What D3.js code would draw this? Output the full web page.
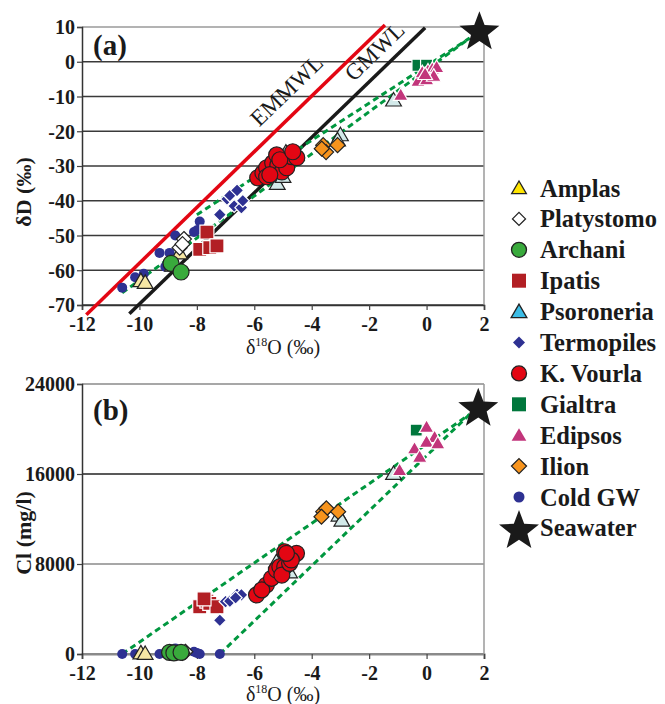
<!DOCTYPE html>
<html>
<head>
<meta charset="utf-8">
<script src="https://cdn.jsdelivr.net/npm/d3@7"></script>
<style>
  body { margin: 0; background: #fff; }
  svg { display: block; font-family: "Liberation Serif", "Times New Roman", serif; }
</style>
</head>
<body>
<script>
// tick values
const xTicks = [-12, -10, -8, -6, -4, -2, 0, 2];
const dDTicks = [10, 0, -10, -20, -30, -40, -50, -60, -70];
const clTicks = [0, 8000, 16000, 24000];

// panel (a): [d18O, dD]   panel (b): [d18O, Cl]
const amplasA = [[-9.95, -63], [-9.8, -63.5], [-8.6, -55], [-8.85, -58.5]];
const amplasB = [[-9.95, 100], [-9.8, 50]];
const platystomoA = [[-8.45, -51], [-8.6, -53.5], [-8.5, -52.5]];
const platystomoB = [[-8.4, 200], [-8.5, 100]];
const archaniA = [[-8.9, -58], [-8.55, -60.5]];
const archaniB = [[-8.95, 150], [-8.8, 100], [-8.55, 150]];
const ipatisA = [[-7.65, -49], [-7.9, -54], [-7.55, -53.5], [-7.3, -53]];
const ipatisB = [[-7.9, 4200], [-7.65, 4700], [-7.55, 4500], [-7.3, 4200], [-7.75, 4900]];
const psoroneriaA = [[-1.15, -11], [-3.0, -21], [-3.1, -22.5], [-5.2, -35], [-4.9, -26], [-5.0, -33]];
const psoroneriaB = [[-1.15, 16050], [-3.05, 12350], [-2.95, 11900], [-5.23, 8200], [-4.77, 7300]];
const termopilesA = [[-7.2, -44], [-6.95, -39.5], [-6.85, -38.5], [-6.6, -37], [-6.7, -41.5], [-6.45, -42], [-6.4, -40]];
const termopilesB = [[-7.2, 3000], [-7.0, 4650], [-6.85, 4700], [-6.6, 5300], [-6.45, 5250], [-6.65, 5000]];
const kvourlaA = [[-5.88, -33.4], [-5.7, -32], [-5.57, -30.5], [-5.36, -29.1], [-5.18, -29.7], [-5.04, -31.7],
  [-4.87, -30.5], [-4.7, -27.3], [-4.52, -27.6], [-5.22, -26.8], [-5.57, -33.1], [-5.11, -28.2], [-4.66, -25.9], [-5.46, -32.5]];
const kvourlaB = [[-5.92, 5250], [-5.58, 6130], [-5.74, 5700], [-5.4, 6730], [-5.23, 7470], [-5.11, 7760], [-4.94, 7760],
  [-5.04, 7020], [-4.77, 8060], [-4.53, 8950], [-4.94, 9090], [-4.71, 8360], [-4.88, 8950]];
const gialtraA = [[-0.3, -1], [0.0, -1]];
const gialtraB = [[-0.36, 19900]];
const edipsosA = [[-0.9, -9.5], [-0.3, -5.5], [0.0, -5.0], [0.05, -2.5], [0.2, -2.0], [0.35, -1.5], [-0.15, -3], [0.25, -4.0], [-0.05, -3.5]];
const edipsosB = [[0.0, 20200], [0.28, 19300], [0.0, 18870], [-0.42, 18280], [-0.24, 17540], [-0.94, 16360], [0.39, 18730]];
const ilionA = [[-3.6, -24], [-3.5, -26], [-3.1, -24], [-3.65, -25]];
const ilionB = [[-3.6, 12650], [-3.49, 12950], [-3.66, 12200], [-3.08, 12650]];
const coldA = [[-10.6, -65], [-10.15, -62], [-9.85, -61], [-9.3, -55], [-8.95, -55], [-8.75, -50], [-9.1, -59],
  [-9.0, -58], [-8.1, -49], [-8.0, -48.5], [-7.9, -46]];
const coldB = [[-10.6, 0], [-10.15, 0], [-9.85, 0], [-9.3, 0], [-9.05, 0], [-8.9, 0], [-8.75, 500],
  [-8.1, 200], [-8.0, 100], [-7.9, 0], [-7.2, 0]];
const seawaterA = [[1.84, 8.5]];
const seawaterB = [[1.8, 21800]];

// reference lines (end points)
const emmwl = [[-11.85, -72.8], [-1.45, 10.6]];
const gmwl = [[-10.35, -72.5], [-0.05, 9.8]];
const mixA = [[[-10.6, -66.5], [1.5, 6.8]], [[-8.0, -44], [1.5, 6.8]]];
const mixB = [[[-10.6, 0], [1.5, 21300]], [[-7.2, 0], [1.5, 21300]]];

const names = ["Amplas", "Platystomo", "Archani", "Ipatis", "Psoroneria", "Termopiles",
  "K. Vourla", "Gialtra", "Edipsos", "Ilion", "Cold GW", "Seawater"];

const styles = {
  "Amplas":     {shape: "tri",  fill: "#f6e7a4", lfill: "#ffe500", stroke: "#222", s: 7.5, ls: 7},
  "Platystomo": {shape: "dia",  fill: "#ffffff", lfill: "#ffffff", stroke: "#222", s: 7.5, ls: 6.5},
  "Archani":    {shape: "circ", fill: "#39aa3c", lfill: "#39aa3c", stroke: "#222", s: 8, ls: 7.5},
  "Ipatis":     {shape: "sq",   fill: "#b21f24", lfill: "#b21f24", stroke: "#fff", s: 7, ls: 7},
  "Psoroneria": {shape: "tri",  fill: "#d3eaea", lfill: "#3cbde6", stroke: "#222", s: 7.5, ls: 7.5},
  "Termopiles": {shape: "dia",  fill: "#2e3192", lfill: "#2e3192", stroke: "#fff", s: 6.5, ls: 6},
  "K. Vourla":  {shape: "circ", fill: "#e30613", lfill: "#e30613", stroke: "#222", s: 8, ls: 7.5},
  "Gialtra":    {shape: "sq",   fill: "#00773c", lfill: "#00773c", stroke: "#fff", s: 6, ls: 7},
  "Edipsos":    {shape: "tri",  fill: "#c2357b", lfill: "#c2357b", stroke: "#fff", s: 7, ls: 7},
  "Ilion":      {shape: "dia",  fill: "#f7941d", lfill: "#f7941d", stroke: "#222", s: 7.5, ls: 7.5},
  "Cold GW":    {shape: "circ", fill: "#2e3192", lfill: "#2e3192", stroke: "none", s: 5, ls: 5.5},
  "Seawater":   {shape: "star", fill: "#1a1a1a", lfill: "#1a1a1a", stroke: "none", s: 21, ls: 21}
};

const dataA = {"Amplas": amplasA, "Platystomo": platystomoA, "Archani": archaniA, "Ipatis": ipatisA,
  "Psoroneria": psoroneriaA, "Termopiles": termopilesA, "K. Vourla": kvourlaA, "Gialtra": gialtraA,
  "Edipsos": edipsosA, "Ilion": ilionA, "Cold GW": coldA, "Seawater": seawaterA};
const dataB = {"Amplas": amplasB, "Platystomo": platystomoB, "Archani": archaniB, "Ipatis": ipatisB,
  "Psoroneria": psoroneriaB, "Termopiles": termopilesB, "K. Vourla": kvourlaB, "Gialtra": gialtraB,
  "Edipsos": edipsosB, "Ilion": ilionB, "Cold GW": coldB, "Seawater": seawaterB};
// drawing order in the plot
const drawOrder = ["Cold GW", "Amplas", "Platystomo", "Archani", "Ipatis", "Termopiles",
  "Psoroneria", "K. Vourla", "Gialtra", "Edipsos", "Ilion", "Seawater"];

function shapePath(type, s) {
  if (type === "circ") return `M${s},0A${s},${s} 0 1,1 ${-s},0A${s},${s} 0 1,1 ${s},0Z`;
  if (type === "sq") return `M${-s},${-s}H${s}V${s}H${-s}Z`;
  if (type === "dia") return `M0,${-s}L${s},0L0,${s}L${-s},0Z`;
  if (type === "tri") return `M0,${-s}L${s * 1.05},${s * 0.8}L${-s * 1.05},${s * 0.8}Z`;
  // star
  const pts = [];
  for (let i = 0; i < 10; i++) {
    const r = i % 2 ? s * 0.42 : s;
    const a = -Math.PI / 2 + i * Math.PI / 5;
    pts.push([r * Math.cos(a), r * Math.sin(a)]);
  }
  return "M" + pts.map(p => p.join(",")).join("L") + "Z";
}

const W = 665, H = 704;
const svg = d3.select("body").append("svg").attr("width", W).attr("height", H);

const x = d3.scaleLinear().domain([-12, 2]).range([82, 484]);
const ya = d3.scaleLinear().domain([-70, 10]).range([305, 27]);
const yb = d3.scaleLinear().domain([0, 24000]).range([654, 384]);

function panel(y, yTicks, data, mix, opts) {
  const g = svg.append("g");
  const [y0, y1] = y.range();
  // grid
  g.selectAll(".grid").data(yTicks).join("line")
    .attr("x1", x(-12)).attr("x2", x(2))
    .attr("y1", d => y(d)).attr("y2", d => y(d))
    .attr("stroke", d => opts.gridColor(d)).attr("stroke-width", d => opts.gridWidth(d));
  // right border
  g.append("line").attr("x1", x(2)).attr("x2", x(2)).attr("y1", y1).attr("y2", y0)
    .attr("stroke", "#9a9a9a").attr("stroke-width", 1.5);

  // axes
  const ax = g.append("g").attr("transform", `translate(0,${y0})`)
    .call(d3.axisBottom(x).tickValues(xTicks).tickSize(5).tickPadding(6).tickFormat(d => String(d)));
  ax.select(".domain").attr("stroke", opts.bottomColor).attr("stroke-width", opts.bottomWidth);
  const ay = g.append("g").attr("transform", `translate(${x(-12)},0)`)
    .call(d3.axisLeft(y).tickValues(yTicks).tickSize(5).tickPadding(2).tickFormat(d => String(d)));
  ay.select(".domain").attr("stroke", "#333").attr("stroke-width", 1.5);
  [ax, ay].forEach(a => a.attr("font-family", null).attr("font-size", null));
  g.selectAll(".tick line").attr("stroke", "#444").attr("stroke-width", 1.2);
  g.selectAll(".tick text")
    .attr("font-size", 20).attr("font-weight", "bold").attr("fill", "#1a1a1a");
  ay.selectAll(".tick text").attr("dy", "0.34em");
  ax.selectAll(".tick text").attr("y", 12).attr("dy", "0.7em");

  if (opts.mwl) {
    const ln = d3.line().x(d => x(d[0])).y(d => y(d[1]));
    g.append("path").attr("d", ln(emmwl)).attr("stroke", "#e30613").attr("stroke-width", 3.5).attr("fill", "none");
    g.append("path").attr("d", ln(gmwl)).attr("stroke", "#1a1a1a").attr("stroke-width", 3.5).attr("fill", "none");
    g.append("text").attr("transform", "translate(292,96) rotate(-44)").attr("text-anchor", "middle")
      .attr("font-size", 23).attr("fill", "#1a1a1a").text("EMMWL");
    g.append("text").attr("transform", "translate(380,57) rotate(-44)").attr("text-anchor", "middle")
      .attr("font-size", 23).attr("fill", "#1a1a1a").text("GMWL");
  }

  const ln = d3.line().x(d => x(d[0])).y(d => y(d[1]));
  mix.forEach(m => g.append("path").attr("d", ln(m)).attr("fill", "none")
    .attr("stroke", "#00973f").attr("stroke-width", 3).attr("stroke-dasharray", "6,4"));

  drawOrder.forEach(name => {
    const st = styles[name];
    g.selectAll(null).data(data[name]).join("path")
      .attr("transform", d => `translate(${x(d[0])},${y(d[1])})`)
      .attr("d", shapePath(st.shape, st.s))
      .attr("fill", st.fill).attr("stroke", st.stroke).attr("stroke-width", st.stroke === "none" ? 0 : 1.2);
  });

  g.append("text").attr("x", 93).attr("y", opts.tagY).attr("font-size", 29).attr("font-weight", "bold")
    .attr("fill", "#1a1a1a").text(opts.tag);

  g.append("text").attr("transform", `translate(31,${opts.ylabY}) rotate(-90)`)
    .attr("text-anchor", "middle").attr("font-size", 22).attr("font-weight", "bold").attr("fill", "#1a1a1a")
    .text(opts.ylab);

  const xl = g.append("text").attr("x", 283).attr("y", opts.xlabY).attr("text-anchor", "middle")
    .attr("font-size", 20).attr("fill", "#1a1a1a");
  xl.append("tspan").text("δ");
  xl.append("tspan").attr("font-size", 12).attr("dy", -8).text("18");
  xl.append("tspan").attr("dy", 8).text("O (‰)");
}

panel(ya, dDTicks, dataA, mixA, {
  gridColor: d => d === 10 ? "#9a9a9a" : "#3a3a3a",
  gridWidth: d => 1.3,
  bottomColor: "#333", bottomWidth: 1.6,
  mwl: true, tag: "(a)", tagY: 55, ylab: "δD (‰)", ylabY: 192, xlabY: 354
});
panel(yb, clTicks, dataB, mixB, {
  gridColor: d => d === 16000 ? "#222" : "#8a8a8a",
  gridWidth: d => d === 0 ? 2.2 : 1.4,
  bottomColor: "#8a8a8a", bottomWidth: 2.2,
  mwl: false, tag: "(b)", tagY: 420, ylab: "Cl (mg/l)", ylabY: 533, xlabY: 701
});

// legend
const leg = svg.append("g");
names.forEach((name, i) => {
  const st = styles[name];
  const cy = 188 + i * 30.9;
  leg.append("path").attr("transform", `translate(519,${name === "Seawater" ? cy + 3 : cy})`)
    .attr("d", shapePath(st.shape, st.ls))
    .attr("fill", st.lfill).attr("stroke", st.stroke === "#fff" ? "none" : st.stroke)
    .attr("stroke-width", 1.3);
  leg.append("text").attr("x", 540).attr("y", cy + 8.5).attr("font-size", 24.5).attr("font-weight", "bold")
    .attr("fill", "#1a1a1a").text(name);
});
</script>
</body>
</html>
